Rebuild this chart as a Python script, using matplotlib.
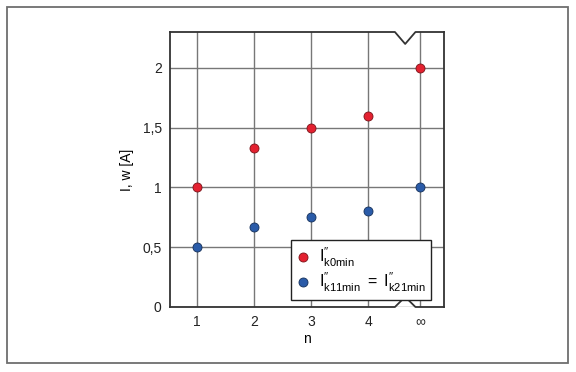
import matplotlib
matplotlib.use("Agg")
from matplotlib import pyplot as plt
from matplotlib.lines import Line2D
from matplotlib.patches import Rectangle

plt.rcParams['font.family'] = ['Liberation Sans', 'DejaVu Sans']
plt.rcParams['mathtext.fontset'] = 'custom'
plt.rcParams['mathtext.rm'] = 'Liberation Sans'
plt.rcParams['mathtext.it'] = 'Liberation Sans'

n_labels = ['1', '2', '3', '4', '\u221e']
n_pos = [1, 2, 3, 4, 4.91]
i_k0 = [1.0, 1.333, 1.5, 1.6, 2.0]
i_k11 = [0.5, 0.667, 0.75, 0.8, 1.0]
y_ticks = [0, 0.5, 1, 1.5, 2]
y_labels = ['0', '0,5', '1', '1,5', '2']

W, H = 576, 372
fig = plt.figure(figsize=(W / 100, H / 100), dpi=100)
fig.patches.append(Rectangle((7 / W, 1 - 363 / H), 561 / W, 356 / H,
                             transform=fig.transFigure, fill=False,
                             edgecolor='#6e6e6e', lw=1.3))

ax = fig.add_axes([170 / W, 1 - 307 / H, 274 / W, 275 / H])
ax.set_xlim(0.53, 5.33)
ax.set_ylim(0, 2.3)

ax.set_xticks(n_pos)
ax.set_xticklabels(n_labels)
ax.set_yticks(y_ticks)
ax.set_yticklabels(y_labels)
ax.tick_params(length=0, labelsize=10, colors='#222222', pad=6)
ax.grid(True, color='#777777', lw=1.0)
ax.set_axisbelow(True)

ax.set_xlabel('n', fontsize=10, labelpad=2)
ax.set_ylabel('I, w [A]', fontsize=10, labelpad=6)

# spines: left/right normal, top/bottom drawn with break notch
for s in ['top', 'bottom']:
    ax.spines[s].set_visible(False)
for s in ['left', 'right']:
    ax.spines[s].set_color('#333333')
    ax.spines[s].set_linewidth(1.3)

brk = 4.65
hw = 0.18
ymax = 2.3
top_x = [0.53, brk - hw, brk, brk + hw, 5.33]
top_y = [ymax, ymax, ymax - 0.1, ymax, ymax]
bot_x = [0.53, brk - hw, brk, brk + hw, 5.33]
bot_y = [0, 0, 0.085, 0, 0]
for xs, ys in [(top_x, top_y), (bot_x, bot_y)]:
    ax.add_line(Line2D(xs, ys, color='#333333', lw=1.3, clip_on=False, zorder=5))

pp = r'\prime\prime'
ax.plot(n_pos, i_k0, 'o', color='#e32130', mec='#7a1218', mew=0.6, ms=6.5,
        zorder=6, label=r'$\mathregular{I^{%s}_{k0min}}$' % pp)
ax.plot(n_pos, i_k11, 'o', color='#2a5ba8', mec='#15305a', mew=0.6, ms=6.5,
        zorder=6,
        label=r'$\mathregular{I^{%s}_{k11min}\ =\ I^{%s}_{k21min}}$' % (pp, pp))

leg = ax.legend(loc='lower right', bbox_to_anchor=(431 / W, 1 - 300 / H),
                bbox_transform=fig.transFigure, fontsize=11.5, fancybox=False,
                framealpha=1, edgecolor='#222222', handlelength=0.8,
                handletextpad=0.6, borderpad=0.35, labelspacing=0.15,
                borderaxespad=0)
leg.get_frame().set_linewidth(1.0)
leg.set_zorder(7)

fig.savefig('out.png', dpi=100)
